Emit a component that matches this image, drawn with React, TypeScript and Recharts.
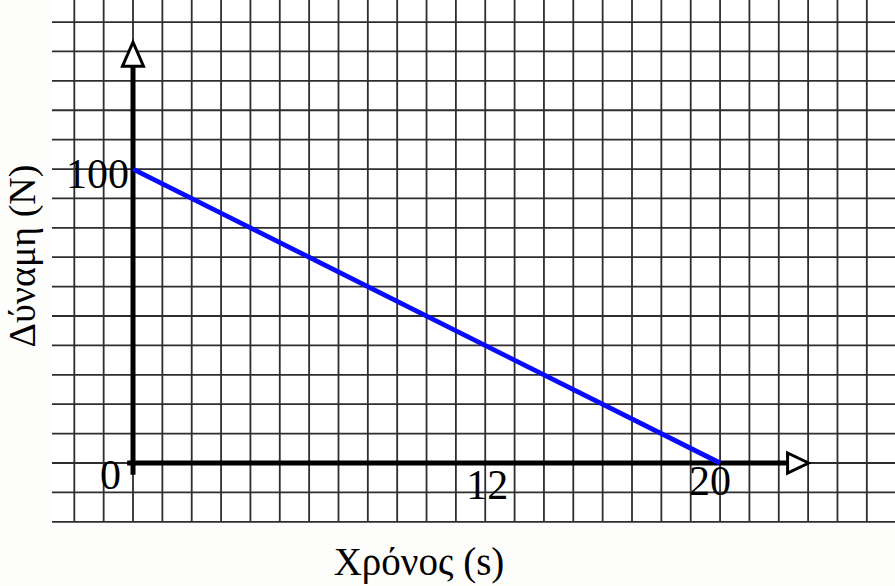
import React from 'react';
import {
  LineChart,
  Line,
  XAxis,
  YAxis,
  ReferenceLine,
  ReferenceDot,
  ReferenceArea,
  Customized,
} from 'recharts';

// time in s, force in N
const timeValues = [0, 20];
const forceValues = [100, 0];

// labelled ticks
const xTicks = [12, 20];
const yTicks = [0, 100];

// graph-paper lines
const gridX = [-2, -1, 0, 1, 2, 3, 4, 5, 6, 7, 8, 9, 10, 11, 12, 13, 14, 15, 16, 17, 18, 19, 20, 21, 22, 23, 24, 25];
const gridY = [-20, -10, 0, 10, 20, 30, 40, 50, 60, 70, 80, 90, 100, 110, 120, 130, 140, 150];

const xTitle = 'Χρόνος (s)';
const yTitle = 'Δύναμη (N)';

const data = timeValues.map((t, i) => ({ t, f: forceValues[i] }));

const X_MIN = -2.76;
const X_MAX = 25.96;
const Y_MIN = -20.07;
const Y_MAX = 157.5;

const FONT = '"Liberation Serif", "DejaVu Serif", serif';
const GRID = '#2e2e2e';

// small nudges so the labels sit like the hand-placed ones
const xLabelNudge: Record<number, [number, number]> = { 12: [2, 36], 20: [-10, 32] };
const yLabelNudge: Record<number, [number, number]> = { 0: [-12, 26], 100: [-4, 19] };

const Titles = () => (
  <g fontFamily={FONT} fill="#000">
    <text x={419} y={575} fontSize={39} textAnchor="middle">
      {xTitle}
    </text>
    <text x={35} y={256} fontSize={38} textAnchor="middle" transform="rotate(-90, 35, 256)">
      {yTitle}
    </text>
  </g>
);

export default function App() {
  return (
    <div
      style={{
        position: 'absolute',
        left: 0,
        top: 0,
        width: 895,
        height: 586,
        background: '#fdfdfb',
        overflow: 'hidden',
      }}
    >
      <LineChart
        width={895}
        height={586}
        data={data}
        margin={{ top: 0, right: 0, bottom: 64, left: 52 }}
      >
        <XAxis hide type="number" dataKey="t" domain={[X_MIN, X_MAX]} allowDataOverflow />
        <YAxis hide type="number" domain={[Y_MIN, Y_MAX]} allowDataOverflow />

        <ReferenceArea x1={X_MIN} x2={X_MAX} y1={Y_MIN} y2={Y_MAX} fill="#ffffff" fillOpacity={1} stroke="none" />

        {gridX.map((v) => (
          <ReferenceLine key={'gx' + v} x={v} stroke={GRID} strokeWidth={1.8} />
        ))}
        {gridY.map((v) => (
          <ReferenceLine key={'gy' + v} y={v} stroke={GRID} strokeWidth={1.8} />
        ))}

        {/* axes */}
        <ReferenceLine
          segment={[{ x: 0, y: -4 }, { x: 0, y: 135 }]}
          stroke="#000"
          strokeWidth={5}
        />
        <ReferenceLine
          segment={[{ x: -0.2, y: 0 }, { x: 22.3, y: 0 }]}
          stroke="#000"
          strokeWidth={5}
        />

        <Line
          type="linear"
          dataKey="f"
          stroke="#0a0aff"
          strokeWidth={4.8}
          dot={false}
          activeDot={false}
          isAnimationActive={false}
        />

        {/* arrow heads */}
        <ReferenceDot
          x={0}
          y={135}
          r={0}
          shape={(p: any) => (
            <path
              d={`M${p.cx - 10.5},${p.cy} L${p.cx},${p.cy - 24} L${p.cx + 10.5},${p.cy} Z`}
              fill="#fff"
              stroke="#000"
              strokeWidth={3}
            />
          )}
        />
        <ReferenceDot
          x={22.3}
          y={0}
          r={0}
          shape={(p: any) => (
            <path
              d={`M${p.cx},${p.cy - 10} L${p.cx + 21},${p.cy} L${p.cx},${p.cy + 10} Z`}
              fill="#fff"
              stroke="#000"
              strokeWidth={3}
            />
          )}
        />

        {/* tick labels */}
        {xTicks.map((v) => (
          <ReferenceDot
            key={'xt' + v}
            x={v}
            y={0}
            r={0}
            shape={(p: any) => (
              <text
                x={p.cx + xLabelNudge[v][0]}
                y={p.cy + xLabelNudge[v][1]}
                textAnchor="middle"
                fontFamily={FONT}
                fontSize={42}
                fill="#000"
              >
                {v}
              </text>
            )}
          />
        ))}
        {yTicks.map((v) => (
          <ReferenceDot
            key={'yt' + v}
            x={0}
            y={v}
            r={0}
            shape={(p: any) => (
              <text
                x={p.cx + yLabelNudge[v][0]}
                y={p.cy + yLabelNudge[v][1]}
                textAnchor="end"
                fontFamily={FONT}
                fontSize={42}
                fill="#000"
              >
                {v}
              </text>
            )}
          />
        ))}

        <Customized component={Titles} />
      </LineChart>
    </div>
  );
}
